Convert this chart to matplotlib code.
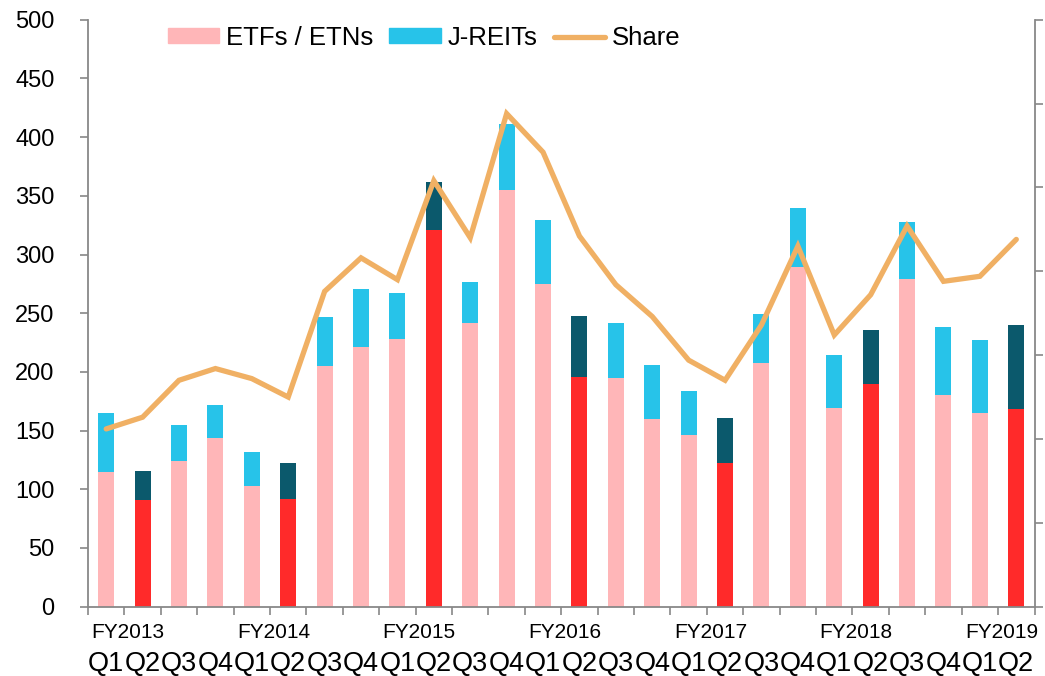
import numpy as np
import matplotlib
matplotlib.use('Agg')
import matplotlib.pyplot as plt
from matplotlib.patches import Patch
from matplotlib.lines import Line2D

plt.rcParams['font.family'] = ['Liberation Sans', 'DejaVu Sans']

# data
quarters = ['Q1', 'Q2', 'Q3', 'Q4'] * 6 + ['Q1', 'Q2']
fiscal_years = ['FY2013', 'FY2014', 'FY2015', 'FY2016', 'FY2017', 'FY2018', 'FY2019']
etfs = [115, 91, 124, 144, 103, 92, 205, 221, 228, 321, 242, 355, 275,
        196, 195, 160, 146, 122, 208, 289, 169, 190, 279, 180, 165, 168]
reits = [50, 25, 31, 28, 29, 30, 42, 50, 39, 41, 35, 56, 54,
         52, 47, 46, 38, 39, 41, 51, 45, 46, 49, 58, 62, 72]
share = [10.6, 11.3, 13.5, 14.2, 13.6, 12.5, 18.8, 20.8, 19.5, 25.4, 22.0, 29.4, 27.1,
         22.1, 19.2, 17.3, 14.7, 13.5, 16.8, 21.5, 16.2, 18.6, 22.7, 19.4, 19.7, 21.9]

PINK = '#FFB6B8'
CYAN = '#27C3E9'
RED = '#FF2A2A'
TEAL = '#0B596C'
ORANGE = '#F0B064'
GREY = '#888888'

x = np.arange(len(quarters))
bottom_cols = [RED if q == 'Q2' else PINK for q in quarters]
top_cols = [TEAL if q == 'Q2' else CYAN for q in quarters]

fig = plt.figure(figsize=(10.45, 6.76), dpi=100)
ax = fig.add_axes([88 / 1045, 1 - 606.7 / 676, 946.5 / 1045, 587 / 676])

ax.bar(x, etfs, width=0.44, color=bottom_cols)
ax.bar(x, reits, width=0.44, bottom=etfs, color=top_cols)

ax.set_xlim(-0.5, len(x) - 0.5)
ax.set_ylim(0, 500)
ax.set_yticks(np.arange(0, 501, 50))
ax.tick_params(axis='y', length=6, width=1.2, color=GREY, pad=18, labelsize=17)

# boundaries get the tick marks, bar centres get the quarter labels
ax.set_xticks(np.arange(-0.5, len(x), 1.0))
ax.set_xticklabels([])
ax.set_xticks(x, minor=True)
ax.set_xticklabels(quarters, minor=True)
ax.tick_params(axis='x', which='major', length=6, width=1.2, color=GREY)
ax.tick_params(axis='x', which='minor', length=0, pad=32, labelsize=19.5)

for i, fy in enumerate(fiscal_years):
    ax.annotate(fy, (4 * i + 0.6, 0), xycoords=('data', 'axes fraction'),
                xytext=(0, -16), textcoords='offset pixels',
                ha='center', va='top', fontsize=15)

for side in ['left', 'bottom']:
    ax.spines[side].set_color(GREY)
    ax.spines[side].set_linewidth(1.3)
ax.spines['top'].set_visible(False)
ax.spines['right'].set_visible(False)

ax2 = ax.twinx()
ax2.plot(x, share, color=ORANGE, linewidth=3.8, solid_capstyle='round', solid_joinstyle='miter')
ax2.set_ylim(0, 35)
ax2.set_yticks(np.arange(0, 36, 5))
ax2.set_yticklabels([])
ax2.tick_params(axis='y', length=6, width=1.2, color=GREY)
ax2.spines['right'].set_color(GREY)
ax2.spines['right'].set_linewidth(1.3)
ax2.spines['top'].set_visible(False)
ax2.spines['left'].set_visible(False)
ax2.spines['bottom'].set_visible(False)

handles = [Patch(color=PINK, label='ETFs / ETNs'),
           Patch(color=CYAN, label='J-REITs'),
           Line2D([0], [0], color=ORANGE, linewidth=3.8, solid_capstyle='round', label='Share')]
ax2.legend(handles=handles, loc='center', bbox_to_anchor=(0.355, 0.969), ncol=3,
           frameon=False, fontsize=18.5, handlelength=2.0, handleheight=0.5,
           handletextpad=0.25, columnspacing=0.65, borderpad=0)

fig.savefig('out.png', dpi=100)
